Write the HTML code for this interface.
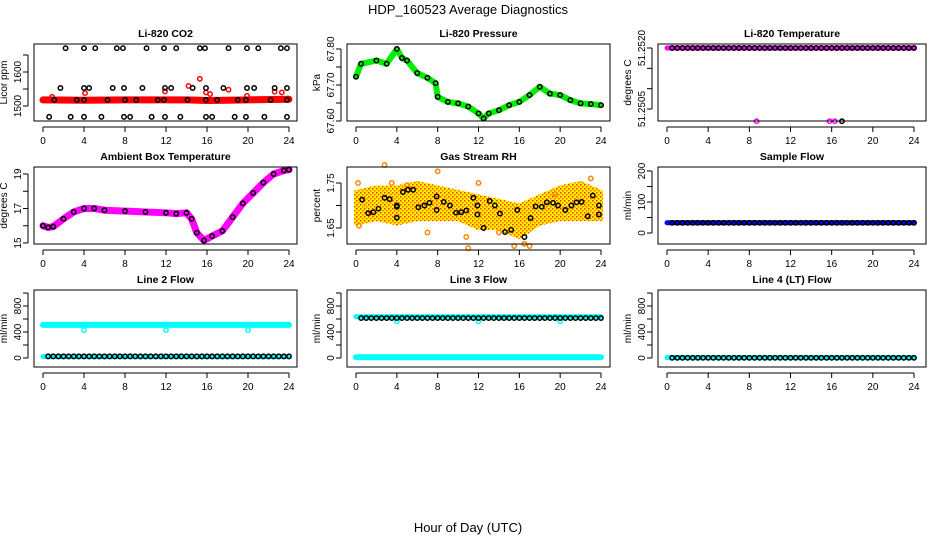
<!DOCTYPE html>
<html><head><meta charset="utf-8"><style>
body{margin:0;background:#fff}
svg{display:block;font-family:"Liberation Sans",sans-serif}
</style></head><body>
<svg id="c" width="936" height="540" xmlns="http://www.w3.org/2000/svg">
<text x="468" y="14" text-anchor="middle" font-size="13">HDP_160523  Average Diagnostics</text>
<text x="468" y="532" text-anchor="middle" font-size="13">Hour of Day (UTC)</text>
</svg>
<script>
// ---- data ----
const xTicks=[0,4,8,12,16,20,24];
const co2TopH=[2.2,4,5.1,7.2,7.8,10.1,11.8,13,15.3,15.8,18.1,19.9,21,23.2,23.8];
const co2MidH=[1.7,4,4.5,6.8,7.9,9.7,11.9,12.5,14.6,15.9,17.6,19.9,20.6,22.6,23.8];
const co2BandH=[1.1,3.3,4,6.3,8,9.1,11.2,11.8,14.1,15.9,17,19,19.8,22.2,23.8];
const co2LowH=[0.6,2.7,4,5.7,7.9,8.5,10.6,11.9,13.4,15.9,16.5,18.7,19.8,21.6,23.8];
const co2Levels=[1670,1553,1518,1468];
const co2RedH=[0,4,8,12,14,16,18,20,24];
const co2RedV=[1518,1517,1518,1518,1518,1516,1517,1518,1520];
const co2RedOutH=[0.9,4.1,11.9,14.2,15.3,15.9,16.3,18.1,19.9,22.6,23.3];
const co2RedOutV=[1527,1538,1543,1559,1580,1540,1535,1548,1530,1542,1540];
const presH=[0,0.5,2,3,4,4.5,5,6,7,7.8,8,9,10,11,12,12.5,13,14,15,16,17,18,19,20,21,22,23,24];
const presV=[67.723,67.759,67.768,67.759,67.8,67.775,67.768,67.733,67.72,67.705,67.667,67.653,67.649,67.64,67.621,67.607,67.621,67.63,67.644,67.653,67.672,67.695,67.676,67.672,67.658,67.649,67.647,67.644];
const tempHighH=[0,24];
const tempHigh=51.2520;
const tempLowMagH=[8.7,15.8,16.3];
const tempLowBlkH=[17];
const tempLow=51.2502;
const ambH=[0,0.5,1,2,3,4,5,6,8,10,12,13,14,14.5,15,15.7,16.5,17.5,18.5,19.5,20.5,21.5,22.5,23.5,24];
const ambV=[16,15.9,15.95,16.4,16.8,17,17,16.9,16.85,16.8,16.75,16.7,16.75,16.4,15.6,15.15,15.4,15.7,16.5,17.3,17.9,18.5,19,19.2,19.25];
const rhBandH=[0,2,4,6,8,10,12,14,16,18,20,22,24];
const rhUpper=[1.73,1.74,1.74,1.75,1.74,1.73,1.72,1.71,1.70,1.72,1.74,1.75,1.73];
const rhLower=[1.66,1.67,1.66,1.67,1.67,1.67,1.65,1.65,1.63,1.66,1.67,1.67,1.67];
const rhBlkH=[0.6,1.2,1.7,2.2,2.8,3.3,4,4,4,4.6,5.1,5.6,6.1,6.7,7.2,7.9,7.9,8.6,9.2,9.8,10.3,10.8,11.5,11.9,11.9,12.5,13.1,13.6,14.1,14.6,15.2,15.8,16.5,17.1,17.6,18.2,18.7,19.3,19.8,20.5,21.1,21.6,22.1,22.7,23.2,23.8,23.8];
const rhBlkV=[1.713,1.683,1.685,1.693,1.717,1.714,1.697,1.70,1.673,1.73,1.735,1.735,1.696,1.70,1.706,1.72,1.69,1.708,1.70,1.684,1.685,1.689,1.717,1.70,1.68,1.65,1.71,1.70,1.682,1.641,1.646,1.69,1.63,1.672,1.698,1.697,1.707,1.706,1.70,1.69,1.70,1.707,1.708,1.676,1.722,1.68,1.70];
const rhOutH=[0.2,2.8,8,5,3.5,10.8,11,12,15.5,16.5,17,23,7,0.3,14,19.5];
const rhOutV=[1.75,1.79,1.776,1.745,1.75,1.63,1.605,1.75,1.61,1.615,1.61,1.76,1.64,1.655,1.64,1.725];
const sfH=[0,24];
const sfV=[33,33];
const l2CyanHi=510, l2CyanLo=22, l2Black=25;
const l2DipH=[4,12,20], l2DipV=[430,430,430];
const l3CyanHi=635, l3Black=615, l3CyanLo=12;
const l3DipH=[4,12,20], l3DipV=[565,565,565];
const l4Cyan=5, l4Black=3;

const NS="http://www.w3.org/2000/svg";
const svg=document.getElementById('c');
function mk(tag,attrs,parent){const e=document.createElementNS(NS,tag);for(const k in attrs)e.setAttribute(k,attrs[k]);(parent||svg).appendChild(e);return e;}
const cols=[{b0:34,b1:297,x0:43,x24:289},{b0:347,b1:610,x0:356,x24:601},{b0:658,b1:926,x0:667,x24:914}];
const rows=[{t:44,b:121},{t:167,b:244},{t:290,b:367}];
function panel(r,c,title,ylab,ya,va,yb,vb,ticks,labels,name){
  const C=cols[c],R=rows[r];
  const g=mk('g',{});
  
  
  const X=h=>C.x0+(C.x24-C.x0)*h/24;
  const Y=v=>ya+(v-va)*(yb-ya)/(vb-va);
  const t=mk('text',{x:(C.b0+C.b1)/2,y:R.t-7,'text-anchor':'middle','font-size':10.5,'font-weight':'bold'},g);t.textContent=title;
  
  
  const cy=(R.t+R.b)/2;
  const yl=mk('text',{x:C.b0-27,y:cy,transform:`rotate(-90 ${C.b0-27} ${cy})`,'text-anchor':'middle','font-size':10},g);
  yl.textContent=ylab;
  
  
  const plot=mk('g',{},g);
  const ax=mk('g',{stroke:'#000','stroke-width':1,fill:'none'},g);
  
  
  mk('rect',{x:C.b0,y:R.t,width:C.b1-C.b0,height:R.b-R.t},ax);
  mk('line',{x1:X(0),x2:X(24),y1:R.b+6,y2:R.b+6},ax);
  xTicks.forEach(h=>{mk('line',{x1:X(h),x2:X(h),y1:R.b+6,y2:R.b+11},ax);
    const tl=mk('text',{x:X(h),y:R.b+23,'text-anchor':'middle','font-size':10,fill:'#000',stroke:'none'},g);tl.textContent=h;
    
    });
  mk('line',{x1:C.b0-6,x2:C.b0-6,y1:Y(ticks[0]),y2:Y(ticks[ticks.length-1])},ax);
  ticks.forEach(v=>mk('line',{x1:C.b0-11,x2:C.b0-6,y1:Y(v),y2:Y(v)},ax));
  labels.forEach(([v,s])=>{const tl=mk('text',{x:C.b0-13,y:Y(v),transform:`rotate(-90 ${C.b0-13} ${Y(v)})`,'text-anchor':'middle','font-size':10},g);tl.textContent=s;
    
    });
  return {X,Y,plot};
}
function pt(p,h,v,col,nm){const e=mk('circle',{cx:p.X(h),cy:p.Y(v),r:2.2,fill:'none',stroke:col,'stroke-width':1.5},p.plot);
  
  return e;}
function band(p,hs,vs,col,w,nm){const e=mk('polyline',{points:hs.map((h,i)=>p.X(h)+','+p.Y(vs[i])).join(' '),fill:'none',stroke:col,'stroke-width':w,'stroke-linejoin':'round','stroke-linecap':'round'},p.plot);
  
  return e;}
const halfH=[];for(let h=0.5;h<=24.01;h+=0.5)halfH.push(h);

// 1 CO2
let p=panel(0,0,'Li-820 CO2','Licor ppm',106,1500,72,1600,[1500,1550,1600,1650],[[1500,'1500'],[1600,'1600']],'panel-co2');
band(p,co2RedH,co2RedV,'#ff0000',7,'co2-red-band');
co2RedOutH.forEach((h,i)=>pt(p,h,co2RedOutV[i],'#ff0000','co2-red-point'));
[co2TopH,co2MidH,co2BandH,co2LowH].forEach((arr,k)=>arr.forEach(h=>pt(p,h,co2Levels[k],'#000','co2-point')));
// 2 Pressure
p=panel(0,1,'Li-820 Pressure','kPa',49,67.80,121,67.60,[67.60,67.65,67.70,67.75,67.80],[[67.60,'67.60'],[67.70,'67.70'],[67.80,'67.80']],'panel-pressure');
band(p,presH,presV,'#00ee00',6,'pressure-green-band');
presH.forEach((h,i)=>pt(p,h,presV[i],'#000','pressure-point'));
// 3 Temperature
p=panel(0,2,'Li-820 Temperature','degrees C',48,51.2520,109,51.2505,[51.2505,51.2510,51.2515,51.2520],[[51.2505,'51.2505'],[51.2520,'51.2520']],'panel-li820-temp');
band(p,tempHighH,[tempHigh,tempHigh],'#ff00ff',5,'temp-magenta-band');
halfH.forEach(h=>pt(p,h,tempHigh,'#000','temp-point'));
tempLowMagH.forEach(h=>pt(p,h,tempLow,'#ff00ff','temp-low-point'));
tempLowBlkH.forEach(h=>pt(p,h,tempLow,'#000','temp-low-point'));
// 4 Ambient
p=panel(1,0,'Ambient Box Temperature','degrees C',174,19,243,15,[15,16,17,18,19],[[15,'15'],[17,'17'],[19,'19']],'panel-ambient-temp');
band(p,ambH,ambV,'#ff00ff',7,'ambient-magenta-band');
ambH.forEach((h,i)=>pt(p,h,ambV[i],'#000','ambient-point'));
// 5 RH
p=panel(1,1,'Gas Stream RH','percent',183,1.75,228,1.65,[1.65,1.70,1.75],[[1.65,'1.65'],[1.75,'1.75']],'panel-gas-rh');
const pat=mk('pattern',{id:'rhp',width:4,height:4,patternUnits:'userSpaceOnUse'});
mk('rect',{width:4,height:4,fill:'#ffee00'},pat);mk('rect',{width:1.5,height:1.5,fill:'#ff3300'},pat);mk('rect',{x:2,y:2,width:1.5,height:1.5,fill:'#ff6600'},pat);
const poly=rhBandH.map((h,i)=>p.X(h)+','+p.Y(rhUpper[i])).concat(rhBandH.slice().reverse().map((h,i)=>p.X(h)+','+p.Y(rhLower[rhLower.length-1-i])));
const rb=mk('polygon',{points:poly.join(' '),fill:'url(#rhp)',stroke:'url(#rhp)','stroke-width':4,'stroke-linejoin':'round'},p.plot);


rhOutH.forEach((h,i)=>pt(p,h,rhOutV[i],'#ff8800','rh-orange-point'));
rhBlkH.forEach((h,i)=>pt(p,h,rhBlkV[i],'#000','rh-point'));
// 6 Sample flow
p=panel(1,2,'Sample Flow','ml/min',233,0,171,200,[0,50,100,150,200],[[0,'0'],[100,'100'],[200,'200']],'panel-sample-flow');
band(p,sfH,sfV,'#0000ff',5,'sample-flow-blue-band');
halfH.forEach(h=>pt(p,h,sfV[0],'#000','sample-flow-point'));
const flowTicks=[0,200,400,600,800,1000], flowLabels=[[0,'0'],[400,'400'],[800,'800']];
// 7 Line 2
p=panel(2,0,'Line 2 Flow','ml/min',358,0,306,800,flowTicks,flowLabels,'panel-line2-flow');
band(p,[0,24],[l2CyanHi,l2CyanHi],'#00ffff',6,'line2-cyan-high');
band(p,[0,24],[l2CyanLo,l2CyanLo],'#00ffff',5,'line2-cyan-low');
l2DipH.forEach((h,i)=>pt(p,h,l2DipV[i],'#00ffff','line2-dip'));
halfH.forEach(h=>pt(p,h,l2Black,'#000','line2-point'));
// 8 Line 3
p=panel(2,1,'Line 3 Flow','ml/min',358,0,306,800,flowTicks,flowLabels,'panel-line3-flow');
band(p,[0,24],[l3CyanHi,l3CyanHi],'#00ffff',5,'line3-cyan-high');
band(p,[0,24],[l3CyanLo,l3CyanLo],'#00ffff',6,'line3-cyan-low');
l3DipH.forEach((h,i)=>pt(p,h,l3DipV[i],'#00ffff','line3-dip'));
halfH.forEach(h=>pt(p,h,l3Black,'#000','line3-point'));
// 9 Line 4
p=panel(2,2,'Line 4 (LT) Flow','ml/min',358,0,306,800,flowTicks,flowLabels,'panel-line4-flow');
band(p,[0,24],[l4Cyan,l4Cyan],'#00ffff',5,'line4-cyan');
halfH.forEach(h=>pt(p,h,l4Black,'#000','line4-point'));
</script>
</body></html>
